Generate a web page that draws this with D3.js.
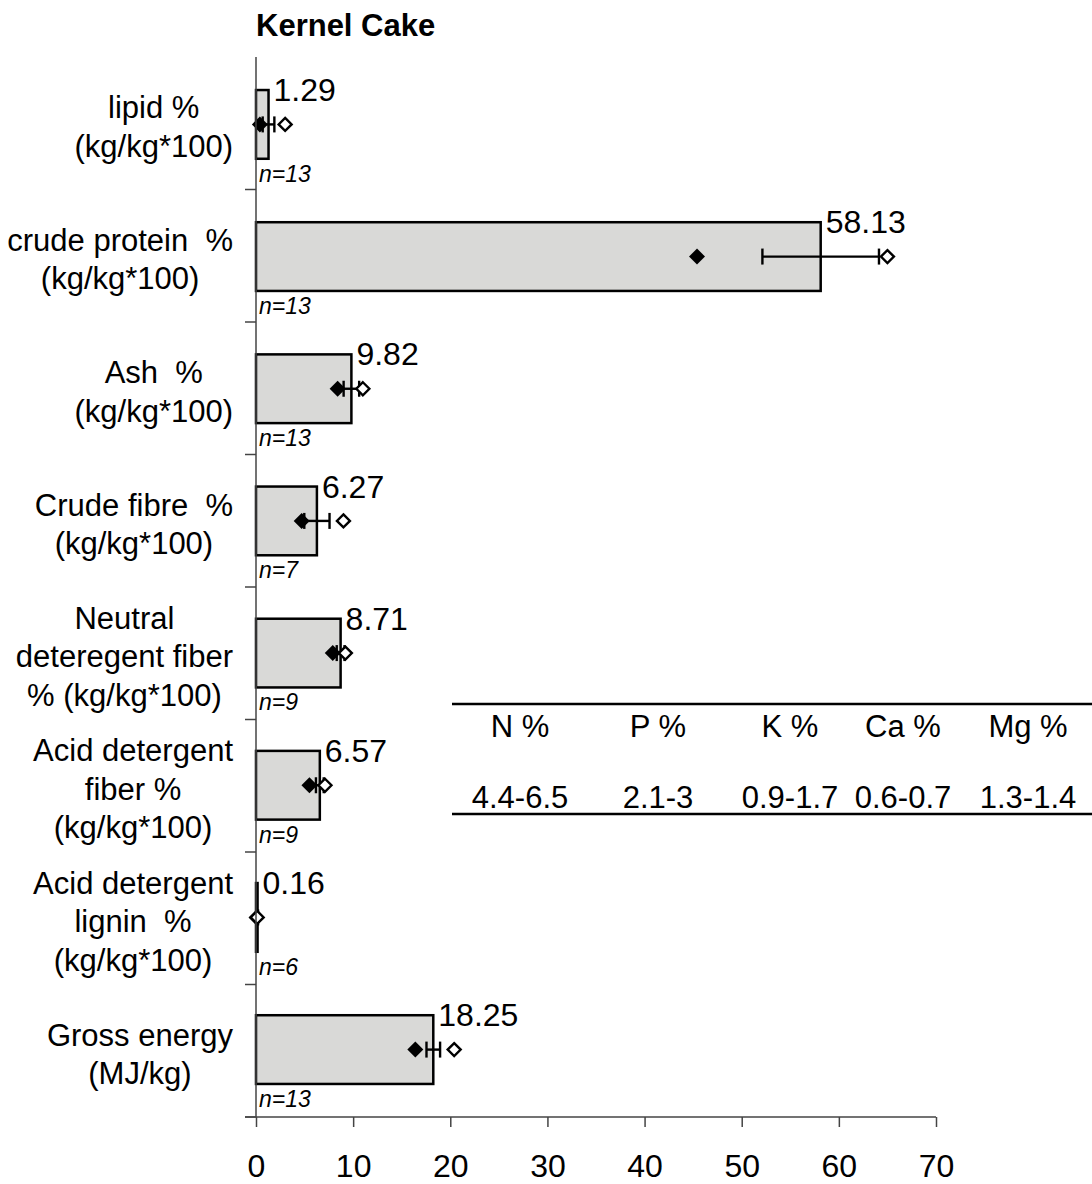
<!DOCTYPE html>
<html>
<head>
<meta charset="utf-8">
<script src="https://cdn.jsdelivr.net/npm/d3@7"></script>
<style>
  html, body { margin: 0; padding: 0; background: #fff; }
  svg { display: block; }
  text { font-family: Arial, "Liberation Sans", sans-serif; fill: #000; white-space: pre; }
</style>
</head>
<body>
<svg id="chart" width="1092" height="1184"></svg>
<script>
// Kernel cake composition: mean (bar), standard deviation (error bar),
// minimum (filled diamond) and maximum (open diamond), with sample sizes.
const categories = [
  ["lipid %", "(kg/kg*100)"],
  ["crude protein  %", "(kg/kg*100)"],
  ["Ash  %", "(kg/kg*100)"],
  ["Crude fibre  %", "(kg/kg*100)"],
  ["Neutral", "deteregent fiber", "% (kg/kg*100)"],
  ["Acid detergent", "fiber %", "(kg/kg*100)"],
  ["Acid detergent", "lignin  %", "(kg/kg*100)"],
  ["Gross energy", "(MJ/kg)"]
];
const meanValues = [1.29, 58.13, 9.82, 6.27, 8.71, 6.57, 0.16, 18.25];
const sdValues   = [0.6, 6.0, 0.8, 1.3, 0.4, 0.4, 0.05, 0.7];
const minValues  = [0.4, 45.4, 8.4, 4.7, 7.9, 5.5, 0.05, 16.4];
const maxValues  = [3.0, 65.0, 11.0, 9.0, 9.2, 7.1, 0.12, 20.4];
const sampleSizes = [13, 13, 13, 7, 9, 9, 6, 13];
const xTicks = [0, 10, 20, 30, 40, 50, 60, 70];

// Mineral ranges table
const mineralNames  = ["N %", "P %", "K %", "Ca %", "Mg %"];
const mineralRanges = ["4.4-6.5", "2.1-3", "0.9-1.7", "0.6-0.7", "1.3-1.4"];

const svg = d3.select("#chart");
const plot = { left: 256, right: 936, top: 57, bottom: 1117 };

const x = d3.scaleLinear().domain([0, 70]).range([plot.left, plot.right]);
const y = d3.scaleBand()
  .domain(d3.range(categories.length))
  .range([plot.top, plot.bottom])
  .paddingInner(0.48).paddingOuter(0.25);
const band = d3.scaleBand()
  .domain(d3.range(categories.length))
  .range([plot.top, plot.bottom]);

// Title
svg.append("text")
  .attr("x", plot.left).attr("y", 36)
  .attr("font-size", 31).attr("font-weight", "bold")
  .text("Kernel Cake");

// Bars
const rows = svg.append("g").selectAll("g.row")
  .data(d3.range(categories.length)).join("g").attr("class", "row");

rows.append("rect")
  .attr("x", x(0))
  .attr("y", i => y(i))
  .attr("width", i => x(meanValues[i]) - x(0))
  .attr("height", y.bandwidth())
  .attr("fill", "#d9d9d7")
  .attr("stroke", "#000")
  .attr("stroke-width", 2.5);

// Error bars (mean ± sd)
const cap = 8;
rows.append("line")
  .attr("x1", i => x(meanValues[i] - sdValues[i]))
  .attr("x2", i => x(meanValues[i] + sdValues[i]))
  .attr("y1", i => y(i) + y.bandwidth() / 2)
  .attr("y2", i => y(i) + y.bandwidth() / 2)
  .attr("stroke", "#000").attr("stroke-width", 2.4);
[-1, 1].forEach(s => {
  rows.append("line")
    .attr("x1", i => x(meanValues[i] + s * sdValues[i]))
    .attr("x2", i => x(meanValues[i] + s * sdValues[i]))
    .attr("y1", i => y(i) + y.bandwidth() / 2 - cap)
    .attr("y2", i => y(i) + y.bandwidth() / 2 + cap)
    .attr("stroke", "#000").attr("stroke-width", 2.4);
});

// Minimum (filled diamond) and maximum (open diamond)
const diamond = (cx, cy, r) =>
  `M${cx},${cy - r}L${cx + r},${cy}L${cx},${cy + r}L${cx - r},${cy}Z`;
rows.append("path")
  .attr("d", i => diamond(x(minValues[i]), y(i) + y.bandwidth() / 2, 8))
  .attr("fill", "#000");
rows.append("path")
  .attr("d", i => diamond(x(maxValues[i]), y(i) + y.bandwidth() / 2, 6.5))
  .attr("fill", "#fff").attr("stroke", "#000").attr("stroke-width", 2.4);

// Value labels
rows.append("text")
  .attr("x", i => x(meanValues[i]) + 5)
  .attr("y", i => y(i) + 11)
  .attr("font-size", 32)
  .text(i => meanValues[i].toFixed(2));

// Sample size labels
rows.append("text")
  .attr("x", x(0) + 3)
  .attr("y", i => y(i) + y.bandwidth() + 23)
  .attr("font-size", 23).attr("font-style", "italic")
  .text(i => "n=" + sampleSizes[i]);

// Y axis: line with ticks at category boundaries
const yAxis = svg.append("g");
yAxis.append("line")
  .attr("x1", plot.left).attr("x2", plot.left)
  .attr("y1", plot.top).attr("y2", plot.bottom)
  .attr("stroke", "#444").attr("stroke-width", 1.5);
yAxis.selectAll("line.tick")
  .data(d3.range(1, categories.length + 1)).join("line").attr("class", "tick")
  .attr("x1", plot.left - 11).attr("x2", plot.left)
  .attr("y1", i => i < categories.length ? band(i) : plot.bottom)
  .attr("y2", i => i < categories.length ? band(i) : plot.bottom)
  .attr("stroke", "#444").attr("stroke-width", 1.5);

// Category labels: lines centred on each other, block right-aligned to the axis
const labelRight = 233;
const lineGap = 38.5;
categories.forEach((lines, i) => {
  const g = svg.append("g");
  const cy = band(i) + band.bandwidth() / 2;
  const ts = g.selectAll("text").data(lines).join("text")
    .attr("font-size", 31)
    .attr("text-anchor", "middle")
    .attr("y", (d, k) => cy + (k - (lines.length - 1) / 2) * lineGap + 14)
    .text(d => d);
  let maxW = 0;
  ts.each(function () { maxW = Math.max(maxW, this.getComputedTextLength()); });
  ts.attr("x", labelRight - maxW / 2);
});

// X axis
const xAxis = d3.axisBottom(x).tickValues(xTicks).tickSize(10).tickSizeOuter(0).tickPadding(27);
const xg = svg.append("g")
  .attr("transform", `translate(0,${plot.bottom})`)
  .call(xAxis);
xg.select(".domain").attr("stroke", "#444").attr("stroke-width", 1.5)
  .attr("d", `M${plot.left - 11},0H${plot.right}`);
xg.selectAll(".tick line").attr("stroke", "#444").attr("stroke-width", 1.5);
xg.selectAll(".tick text")
  .attr("font-size", 32)
  .attr("font-family", 'Arial, "Liberation Sans", sans-serif')
  .attr("fill", "#000");

// Mineral table
const table = { left: 452, right: 1092, top: 704, bottom: 814 };
const colCenters = [520, 658, 790, 903, 1028];
const tg = svg.append("g");
tg.append("line")
  .attr("x1", table.left).attr("x2", table.right)
  .attr("y1", table.top).attr("y2", table.top)
  .attr("stroke", "#000").attr("stroke-width", 2.5);
tg.append("line")
  .attr("x1", table.left).attr("x2", table.right)
  .attr("y1", table.bottom).attr("y2", table.bottom)
  .attr("stroke", "#000").attr("stroke-width", 2.5);
tg.selectAll("text.head").data(mineralNames).join("text").attr("class", "head")
  .attr("x", (d, i) => colCenters[i]).attr("y", 737)
  .attr("text-anchor", "middle").attr("font-size", 31)
  .text(d => d);
tg.selectAll("text.val").data(mineralRanges).join("text").attr("class", "val")
  .attr("x", (d, i) => colCenters[i]).attr("y", 808)
  .attr("text-anchor", "middle").attr("font-size", 31)
  .text(d => d);
</script>
</body>
</html>
